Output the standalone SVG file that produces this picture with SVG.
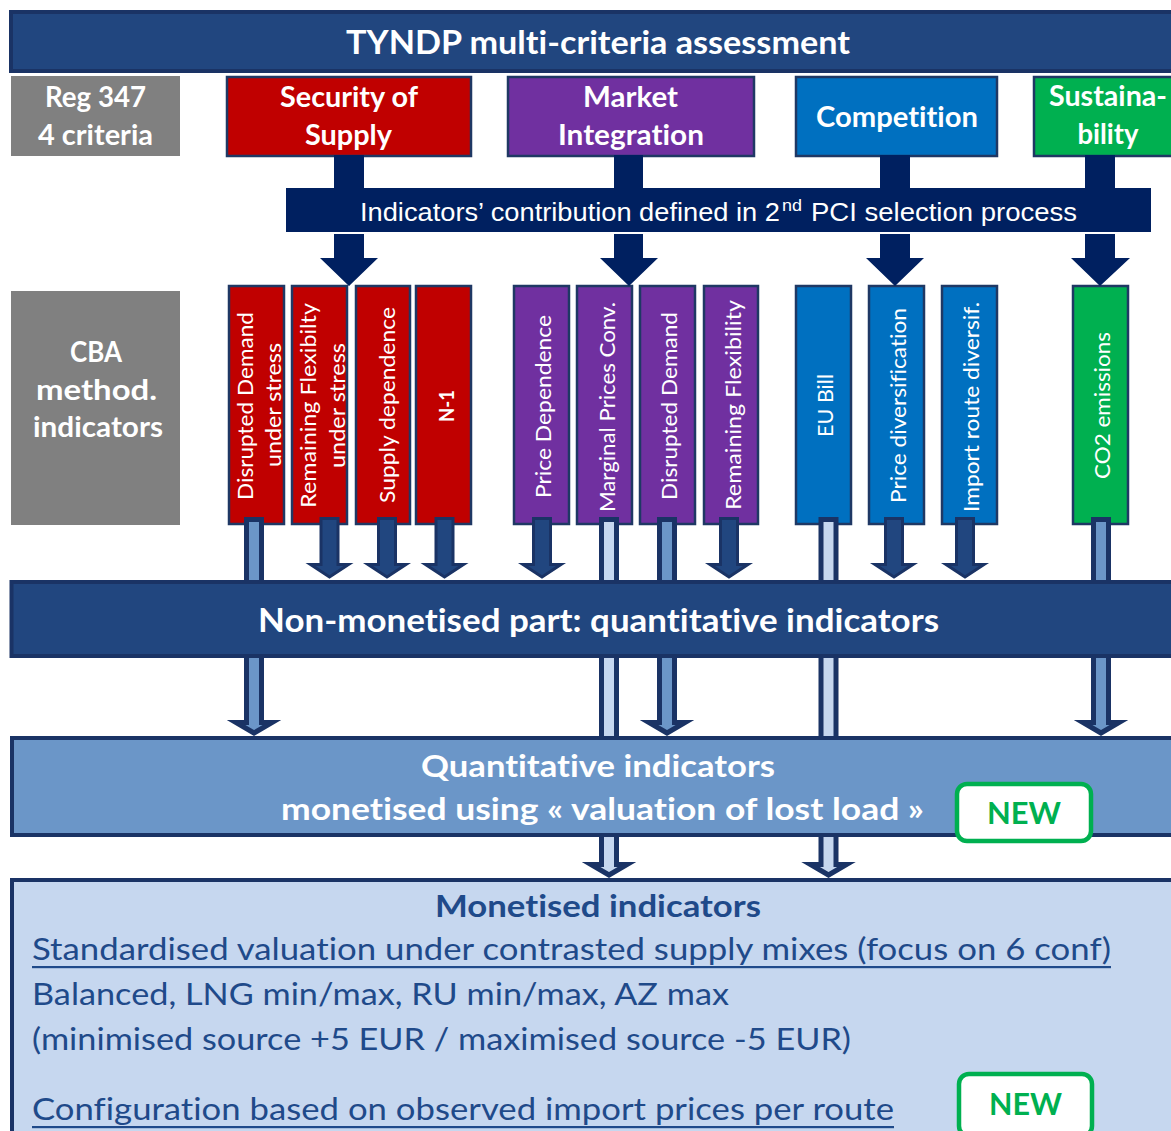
<svg xmlns="http://www.w3.org/2000/svg" width="1171" height="1131" viewBox="0 0 1171 1131">
  <defs>
    <style>
      text { font-variant-ligatures: none; }
      .t { font-family: Lato, "Open Sans", "Liberation Sans", sans-serif; }
      .w { fill: #ffffff; }
      .b { font-weight: 700; }
      .mid { text-anchor: middle; }
      .band { fill: #21467f; stroke: #1a3365; stroke-width: 4; }
      .crit { stroke: #1f3864; stroke-width: 2.5; }
      .col { stroke: #1f3864; stroke-width: 2.5; }
      .red { fill: #c00000; }
      .purple { fill: #7030a0; }
      .blue { fill: #0070c0; }
      .green { fill: #00b050; }
      .grey { fill: #808080; }
      .navy { fill: #002060; }
      .vt { font-family: Lato, "Open Sans", "Liberation Sans", sans-serif; font-size: 21px; fill: #ffffff; text-anchor: middle; dominant-baseline: central; }
      .dark { fill: #21467f; stroke: #1a3365; stroke-width: 3; stroke-linejoin: miter; }
      .pm { fill: #6b96c8; stroke: #1a3365; stroke-width: 5; stroke-linejoin: miter; }
      .pl { fill: #c6d7ef; stroke: #1a3365; stroke-width: 5; stroke-linejoin: miter; }
      .mt { font-family: Lato, "Open Sans", "Liberation Sans", sans-serif; font-size: 31px; fill: #1f4a8a; }
      .newbox { fill: #ffffff; stroke: #00b050; stroke-width: 4.5; }
      .newt { font-family: Lato, "Open Sans", "Liberation Sans", sans-serif; font-size: 31px; font-weight: 700; fill: #00b050; text-anchor: middle; }
    </style>
  </defs>

  <!-- title band -->
  <g id="title">
    <rect class="band" x="11" y="12" width="1175" height="59"/>
    <text class="t w b mid" x="598" y="54" font-size="32" textLength="504" lengthAdjust="spacingAndGlyphs">TYNDP multi-criteria assessment</text>
  </g>

  <!-- regulation criteria row -->
  <g id="reg347">
    <rect class="grey" x="11" y="76" width="169" height="80"/>
    <text class="t w b mid" x="95.5" y="107" font-size="28" textLength="101" lengthAdjust="spacingAndGlyphs">Reg 347</text>
    <text class="t w b mid" x="95.5" y="145" font-size="28" textLength="115" lengthAdjust="spacingAndGlyphs">4 criteria</text>
  </g>
  <g id="security-of-supply">
    <rect class="crit red" x="227" y="77" width="244" height="79"/>
    <text class="t w b mid" x="349" y="107" font-size="28" textLength="138" lengthAdjust="spacingAndGlyphs">Security of</text>
    <text class="t w b mid" x="348.5" y="145" font-size="28" textLength="87" lengthAdjust="spacingAndGlyphs">Supply</text>
  </g>
  <g id="market-integration">
    <rect class="crit purple" x="508" y="77" width="246" height="79"/>
    <text class="t w b mid" x="630.5" y="107" font-size="28" textLength="95" lengthAdjust="spacingAndGlyphs">Market</text>
    <text class="t w b mid" x="631" y="145" font-size="28" textLength="146" lengthAdjust="spacingAndGlyphs">Integration</text>
  </g>
  <g id="competition">
    <rect class="crit blue" x="796" y="77" width="201" height="79"/>
    <text class="t w b mid" x="897" y="127" font-size="28" textLength="162" lengthAdjust="spacingAndGlyphs">Competition</text>
  </g>
  <g id="sustainability">
    <rect class="crit green" x="1034" y="77" width="150" height="79"/>
    <text class="t w b mid" x="1108" y="106" font-size="29" textLength="118" lengthAdjust="spacingAndGlyphs">Sustaina-</text>
    <text class="t w b mid" x="1108" y="144" font-size="29" textLength="61" lengthAdjust="spacingAndGlyphs">bility</text>
  </g>

  <!-- indicator contribution band -->
  <g id="pci-contribution">
    <rect class="navy" x="286" y="188" width="865" height="44"/>
    <text x="360" y="221" font-family="'Liberation Sans', Arial, sans-serif" font-size="25" fill="#ffffff" textLength="420" lengthAdjust="spacingAndGlyphs">Indicators’ contribution  defined in 2</text>
    <text x="782" y="211" font-family="'Liberation Sans', Arial, sans-serif" font-size="16" fill="#ffffff" textLength="20" lengthAdjust="spacingAndGlyphs">nd</text>
    <text x="811" y="221" font-family="'Liberation Sans', Arial, sans-serif" font-size="25" fill="#ffffff" textLength="266" lengthAdjust="spacingAndGlyphs">PCI selection process</text>
  </g>

  <!-- CBA indicators label -->
  <g id="cba-label">
    <rect class="grey" x="11" y="291" width="169" height="234"/>
    <text class="t w b mid" x="96" y="362" font-size="28" textLength="52" lengthAdjust="spacingAndGlyphs">CBA</text>
    <text class="t w b mid" x="96.5" y="400" font-size="28" textLength="121" lengthAdjust="spacingAndGlyphs">method.</text>
    <text class="t w b mid" x="98" y="437" font-size="28" textLength="130" lengthAdjust="spacingAndGlyphs">indicators</text>
  </g>

  <!-- indicator columns -->
  <g id="ind-disrupted-demand-stress">
    <rect class="col red" x="229" y="286" width="55" height="238"/>
    <text class="vt" transform="translate(244 406) rotate(-90)" textLength="188" lengthAdjust="spacingAndGlyphs">Disrupted Demand</text>
    <text class="vt" transform="translate(272 405) rotate(-90)" textLength="124" lengthAdjust="spacingAndGlyphs">under stress</text>
  </g>
  <g id="ind-remaining-flex-stress">
    <rect class="col red" x="292" y="286" width="55" height="238"/>
    <text class="vt" transform="translate(307.5 405.5) rotate(-90)" textLength="205" lengthAdjust="spacingAndGlyphs">Remaining Flexibilty</text>
    <text class="vt" transform="translate(336 405.5) rotate(-90)" textLength="125" lengthAdjust="spacingAndGlyphs">under stress</text>
  </g>
  <g id="ind-supply-dependence">
    <rect class="col red" x="356" y="286" width="54" height="238"/>
    <text class="vt" transform="translate(386 405) rotate(-90)" textLength="196" lengthAdjust="spacingAndGlyphs">Supply dependence</text>
  </g>
  <g id="ind-n-1">
    <rect class="col red" x="416" y="286" width="55" height="238"/>
    <text class="vt" font-weight="700" transform="translate(445.5 406) rotate(-90)" textLength="32" lengthAdjust="spacingAndGlyphs">N-1</text>
  </g>
  <g id="ind-price-dependence">
    <rect class="col purple" x="514" y="286" width="55" height="238"/>
    <text class="vt" transform="translate(542 406.5) rotate(-90)" textLength="183" lengthAdjust="spacingAndGlyphs">Price Dependence</text>
  </g>
  <g id="ind-marginal-prices">
    <rect class="col purple" x="577" y="286" width="55" height="238"/>
    <text class="vt" transform="translate(606 407) rotate(-90)" textLength="210" lengthAdjust="spacingAndGlyphs">Marginal Prices Conv.</text>
  </g>
  <g id="ind-disrupted-demand">
    <rect class="col purple" x="640" y="286" width="55" height="238"/>
    <text class="vt" transform="translate(668 406) rotate(-90)" textLength="188" lengthAdjust="spacingAndGlyphs">Disrupted Demand</text>
  </g>
  <g id="ind-remaining-flex">
    <rect class="col purple" x="704" y="286" width="54" height="238"/>
    <text class="vt" transform="translate(732 405) rotate(-90)" textLength="210" lengthAdjust="spacingAndGlyphs">Remaining Flexibility</text>
  </g>
  <g id="ind-eu-bill">
    <rect class="col blue" x="796" y="286" width="55" height="238"/>
    <text class="vt" transform="translate(824.5 405.5) rotate(-90)" textLength="63" lengthAdjust="spacingAndGlyphs">EU Bill</text>
  </g>
  <g id="ind-price-diversification">
    <rect class="col blue" x="869" y="286" width="55" height="238"/>
    <text class="vt" transform="translate(897 405.5) rotate(-90)" textLength="195" lengthAdjust="spacingAndGlyphs">Price diversification</text>
  </g>
  <g id="ind-import-route">
    <rect class="col blue" x="942" y="286" width="55" height="238"/>
    <text class="vt" transform="translate(970 407) rotate(-90)" textLength="210" lengthAdjust="spacingAndGlyphs">Import route diversif.</text>
  </g>
  <g id="ind-co2">
    <rect class="col green" x="1073" y="286" width="55" height="238"/>
    <text class="vt" transform="translate(1101 405.5) rotate(-90)" textLength="147" lengthAdjust="spacingAndGlyphs">CO2 emissions</text>
  </g>

  <!-- connectors -->
  <g id="connectors">
    <!-- criteria stubs into contribution band -->
    <rect class="navy" x="334" y="155" width="30" height="34"/>
    <rect class="navy" x="614" y="155" width="29" height="34"/>
    <rect class="navy" x="880" y="155" width="30" height="34"/>
    <rect class="navy" x="1085" y="155" width="30" height="34"/>
    <!-- block arrows down to the indicator groups -->
    <path class="navy" d="M334 234 H364 V258 H378 L349 286 L320 258 H334 Z"/>
    <path class="navy" d="M614 234 H643 V258 H658 L629 286 L600 258 H614 Z"/>
    <path class="navy" d="M880 234 H910 V258 H924 L895 286 L866 258 H880 Z"/>
    <path class="navy" d="M1085 234 H1115 V258 H1130 L1100 286 L1071 258 H1085 Z"/>

    <!-- indicators ending in the non-monetised part -->
    <path class="dark" d="M321 518.5 H338 V564.5 H348.5 L329.5 577 L310.5 564.5 H321 Z"/>
    <path class="dark" d="M378.5 518.5 H395.5 V564.5 H406 L387 577 L368 564.5 H378.5 Z"/>
    <path class="dark" d="M436 518.5 H453 V564.5 H463.5 L444.5 577 L425.5 564.5 H436 Z"/>
    <path class="dark" d="M533.5 518.5 H550.5 V564.5 H561 L542 577 L523 564.5 H533.5 Z"/>
    <path class="dark" d="M720.5 518.5 H737.5 V564.5 H748 L729 577 L710 564.5 H720.5 Z"/>
    <path class="dark" d="M885.5 518.5 H902.5 V564.5 H913 L894 577 L875 564.5 H885.5 Z"/>
    <path class="dark" d="M956.5 518.5 H973.5 V564.5 H984 L965 577 L946 564.5 H956.5 Z"/>

    <!-- indicators passing on to the VOLL monetisation -->
    <rect class="pm" x="246.5" y="519.5" width="15" height="70"/>
    <path class="pm" d="M246.5 650 H261.5 V722.5 H272 L254 733 L236 722.5 H246.5 Z"/>
    <rect class="pm" x="659.5" y="519.5" width="15" height="70"/>
    <path class="pm" d="M659.5 650 H674.5 V722.5 H685 L667 733 L649 722.5 H659.5 Z"/>
    <rect class="pm" x="1093.5" y="519.5" width="15" height="70"/>
    <path class="pm" d="M1093.5 650 H1108.5 V722.5 H1119 L1101 733 L1083 722.5 H1093.5 Z"/>

    <!-- indicators passing straight on to the monetised part -->
    <rect class="pl" x="601.5" y="519.5" width="15" height="225"/>
    <path class="pl" d="M601.5 828 H616.5 V864.5 H627 L609 875 L591 864.5 H601.5 Z"/>
    <rect class="pl" x="821" y="519.5" width="15" height="225"/>
    <path class="pl" d="M821 828 H836 V864.5 H846.5 L828.5 875 L810.5 864.5 H821 Z"/>
  </g>

  <!-- non-monetised band -->
  <g id="non-monetised">
    <rect class="band" x="11.5" y="582" width="1175" height="74"/>
    <text class="t w b mid" x="598.5" y="632" font-size="32" textLength="681" lengthAdjust="spacingAndGlyphs">Non-monetised part: quantitative indicators</text>
  </g>

  <!-- VOLL monetised band -->
  <g id="voll-monetised">
    <rect x="12" y="738" width="1175" height="97" fill="#6b96c8" stroke="#1a3365" stroke-width="4"/>
    <text class="t w b mid" x="598" y="777" font-size="31" textLength="354" lengthAdjust="spacingAndGlyphs">Quantitative indicators</text>
    <text class="t w b mid" x="602.5" y="820" font-size="31" textLength="643" lengthAdjust="spacingAndGlyphs">monetised using « valuation of lost load »</text>
    <rect class="newbox" x="957" y="784" width="134" height="57" rx="10"/>
    <text class="newt" x="1024" y="824" textLength="74" lengthAdjust="spacingAndGlyphs">NEW</text>
  </g>

  <!-- monetised indicators panel -->
  <g id="monetised">
    <rect x="12" y="880" width="1175" height="262" fill="#c6d7ef" stroke="#1a3365" stroke-width="4"/>
    <text class="mt mid" x="598" y="917" font-weight="700" textLength="326" lengthAdjust="spacingAndGlyphs">Monetised indicators</text>
    <text class="mt" x="32" y="960" textLength="1079" lengthAdjust="spacingAndGlyphs">Standardised valuation under contrasted supply mixes (focus on 6 conf)</text>
    <rect x="32" y="966" width="1079" height="2.2" fill="#1f4a8a"/>
    <text class="mt" x="32" y="1005" textLength="697" lengthAdjust="spacingAndGlyphs">Balanced, LNG min/max, RU min/max, AZ max</text>
    <text class="mt" x="32" y="1050" textLength="819" lengthAdjust="spacingAndGlyphs">(minimised source +5 EUR / maximised source -5 EUR)</text>
    <text class="mt" x="32" y="1120" textLength="862" lengthAdjust="spacingAndGlyphs">Configuration based on observed import prices per route</text>
    <rect x="32" y="1126" width="862" height="2.2" fill="#1f4a8a"/>
    <rect class="newbox" x="959" y="1074" width="133" height="62" rx="10"/>
    <text class="newt" x="1025.5" y="1115" textLength="73" lengthAdjust="spacingAndGlyphs">NEW</text>
  </g>
</svg>
